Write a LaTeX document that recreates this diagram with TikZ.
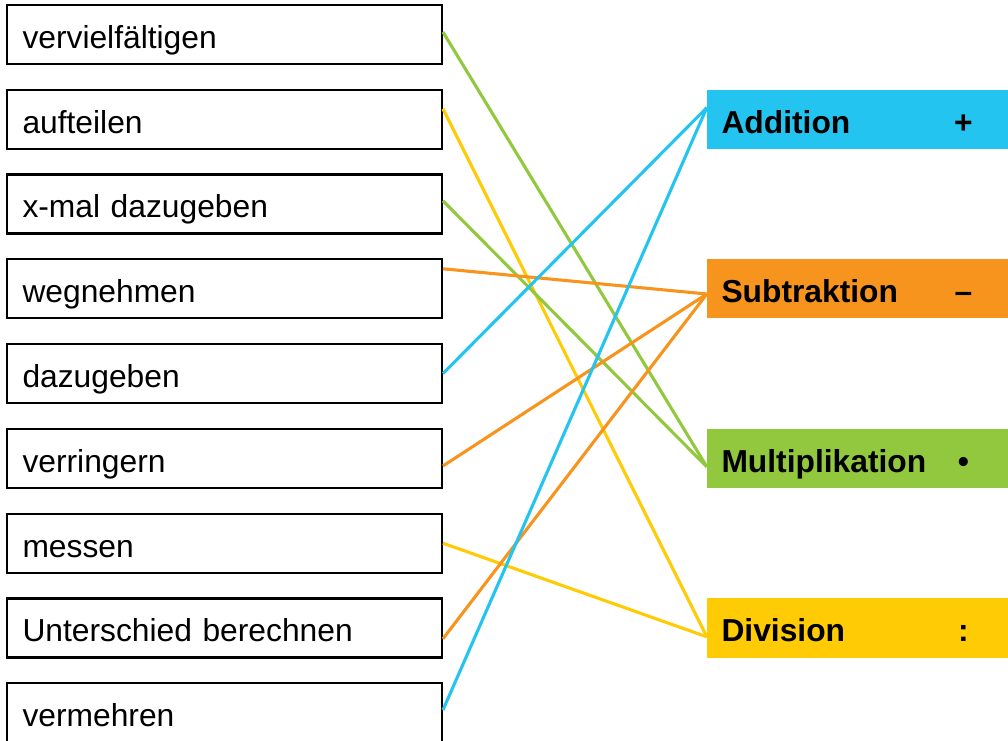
\documentclass[tikz,border=0pt]{standalone}
\usepackage{fontspec}
\setmainfont{Liberation Sans}
\usetikzlibrary{calc}

\definecolor{addblue}{RGB}{36,196,241}
\definecolor{suborange}{RGB}{247,148,30}
\definecolor{mulgreen}{RGB}{146,200,62}
\definecolor{divyellow}{RGB}{255,203,5}

% operation label with its sign on the right
\newcommand{\opname}[2]{\makebox[5.6cm][l]{#1}\makebox[0.9cm]{#2}}

\begin{document}
\begin{tikzpicture}[scale=1,
  word/.style={draw=black, line width=1.5pt, minimum width=10.875cm,
    minimum height=1.475cm, inner xsep=0.39cm, text width=10.095cm,
    align=left, text height=0.75cm, text depth=0.05cm,
    font=\fontsize{22.6pt}{27pt}\selectfont},
  op/.style={fill=#1, minimum width=7.625cm, minimum height=1.475cm,
    inner xsep=0.36cm, text width=6.905cm, align=left,
    text height=0.75cm, text depth=0.05cm,
    font=\fontsize{22.6pt}{27pt}\selectfont\bfseries},
  link/.style={draw=#1, line width=2.2pt}]

  \clip (0, 0) rectangle (25.2, 18.5);

  % words on the left
  \node[word] (verv) at (5.61, 17.64) {vervielfältigen};
  \node[word] (auft) at (5.61, 15.52) {aufteilen};
  \node[word] (xmal) at (5.61, 13.40) {x-mal dazugeben};
  \node[word] (wegn) at (5.61, 11.28) {wegnehmen};
  \node[word] (dazu) at (5.61,  9.16) {dazugeben};
  \node[word] (verr) at (5.61,  7.04) {verringern};
  \node[word] (mess) at (5.61,  4.92) {messen};
  \node[word] (unte) at (5.61,  2.80) {Unterschied berechnen};
  \node[word] (verm) at (5.61,  0.68) {vermehren};

  % operations on the right
  \node[op=addblue]    (add) at (21.49, 15.52) {\opname{Addition}{+}};
  \node[op=suborange]  (sub) at (21.49, 11.28) {\opname{Subtraktion}{–}};
  \node[op=mulgreen]   (mul) at (21.49,  7.04) {\opname{Multiplikation}{•}};
  \node[op=divyellow]  (div) at (21.49,  2.80) {\opname{Division}{:}};

  % line ends
  \coordinate (verv-e) at ($(verv.east)+(0, 0.06)$);
  \coordinate (auft-e) at ($(auft.east)+(0, 0.26)$);
  \coordinate (xmal-e) at ($(xmal.east)+(0, 0.08)$);
  \coordinate (wegn-e) at ($(wegn.east)+(0, 0.50)$);
  \coordinate (dazu-e) at ($(dazu.east)+(0, 0.00)$);
  \coordinate (verr-e) at ($(verr.east)+(0,-0.19)$);
  \coordinate (mess-e) at ($(mess.east)+(0, 0.00)$);
  \coordinate (unte-e) at ($(unte.east)+(0,-0.27)$);
  \coordinate (verm-e) at ($(verm.east)+(0, 0.07)$);
  \coordinate (add-w)  at ($(add.west)+(0, 0.29)$);
  \coordinate (sub-w)  at ($(sub.west)+(0,-0.13)$);
  \coordinate (mul-w)  at ($(mul.west)+(0,-0.21)$);
  \coordinate (div-w)  at ($(div.west)+(0,-0.22)$);

  % matching lines
  \draw[link=mulgreen]  (verv-e) -- (mul-w);
  \draw[link=divyellow] (auft-e) -- (div-w);
  \draw[link=mulgreen]  (xmal-e) -- (mul-w);
  \draw[link=suborange] (wegn-e) -- (sub-w);
  \draw[link=addblue]   (dazu-e) -- (add-w);
  \draw[link=suborange] (verr-e) -- (sub-w);
  \draw[link=divyellow] (mess-e) -- (div-w);
  \draw[link=suborange] (unte-e) -- (sub-w);
  \draw[link=addblue]   (verm-e) -- (add-w);
\end{tikzpicture}
\end{document}
